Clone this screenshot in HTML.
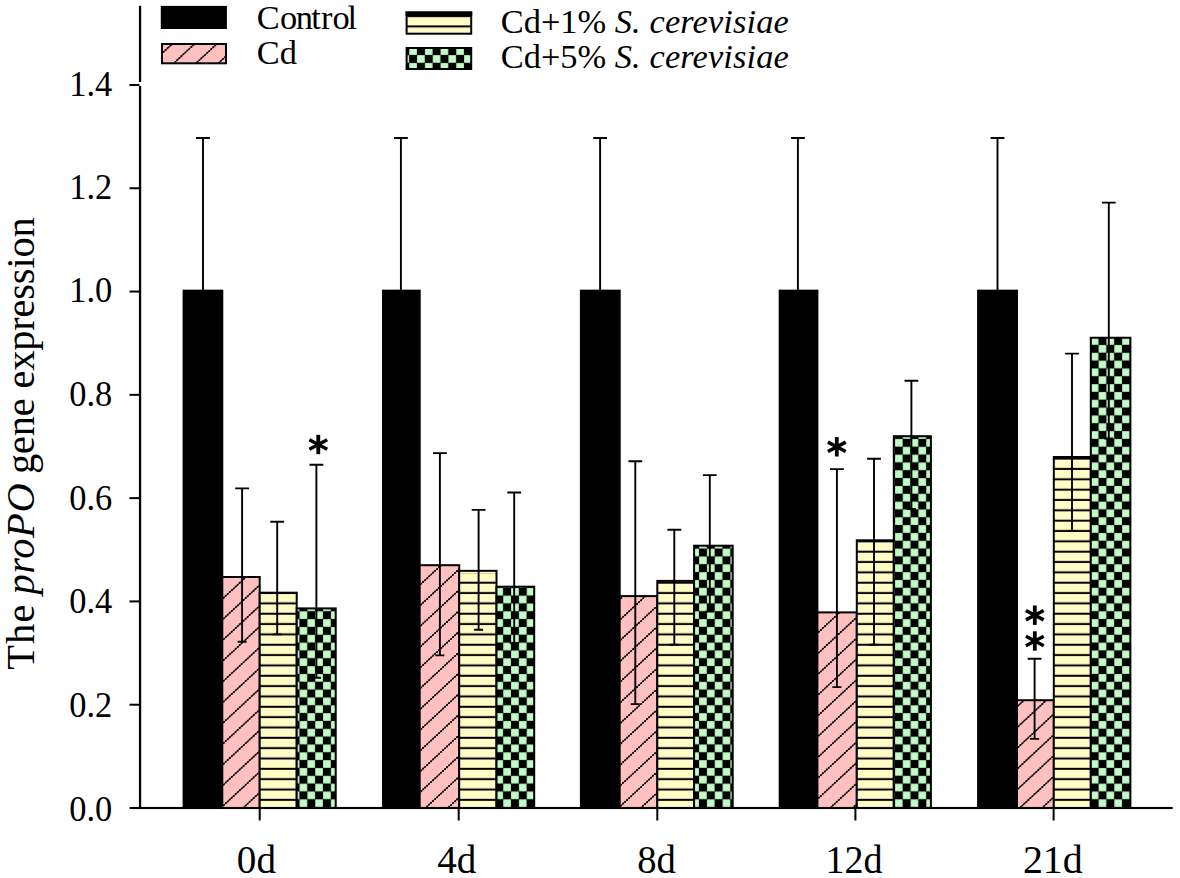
<!DOCTYPE html>
<html><head><meta charset="utf-8"><title>proPO gene expression</title>
<style>html,body{margin:0;padding:0;background:#fff}body{width:1180px;height:878px;overflow:hidden}svg{display:block}text{font-family:"Liberation Serif",serif;fill:#000}</style>
</head><body>
<svg width="1180" height="878" viewBox="0 0 1180 878">
<defs>
<pattern id="ps" patternUnits="userSpaceOnUse" x="0" y="0" width="40" height="10.340"><rect width="40" height="10.340" fill="#fffcc6"/><rect x="0" y="2.65" width="40" height="2.00" fill="#000"/></pattern>
<pattern id="psl" patternUnits="userSpaceOnUse" x="0" y="0" width="40" height="10.340"><rect width="40" height="10.340" fill="#fffcc6"/><rect x="0" y="4.75" width="40" height="2.00" fill="#000"/></pattern>
<pattern id="pc" patternUnits="userSpaceOnUse" width="15.668" height="15.668" patternTransform="translate(1.8,0.2)"><rect width="15.668" height="15.668" fill="#000"/><rect x="0.120" y="0.120" width="7.594" height="7.594" fill="#c2fdc6"/><rect x="7.954" y="7.954" width="7.594" height="7.594" fill="#c2fdc6"/></pattern>
</defs>
<rect width="1180" height="878" fill="#fff"/>
<g stroke="#000" stroke-width="2">
<rect x="183.60" y="290.65" width="38.70" height="517.35" fill="#000"/>
<rect x="222.30" y="577.00" width="37.40" height="231.00" fill="#ffc0c0"/>
<rect x="259.70" y="592.70" width="37.00" height="215.30" fill="url(#ps)"/>
<rect x="296.70" y="608.40" width="39.00" height="199.60" fill="url(#pc)"/>
<rect x="383.00" y="290.65" width="36.70" height="517.35" fill="#000"/>
<rect x="419.70" y="565.20" width="39.50" height="242.80" fill="#ffc0c0"/>
<rect x="459.20" y="570.85" width="37.30" height="237.15" fill="url(#ps)"/>
<rect x="496.50" y="586.70" width="37.70" height="221.30" fill="url(#pc)"/>
<rect x="580.90" y="290.65" width="38.80" height="517.35" fill="#000"/>
<rect x="619.70" y="596.10" width="37.60" height="211.90" fill="#ffc0c0"/>
<rect x="657.30" y="580.90" width="36.80" height="227.10" fill="url(#ps)"/>
<rect x="694.10" y="545.70" width="38.60" height="262.30" fill="url(#pc)"/>
<rect x="779.70" y="290.65" width="37.70" height="517.35" fill="#000"/>
<rect x="817.40" y="612.40" width="39.40" height="195.60" fill="#ffc0c0"/>
<rect x="856.80" y="540.30" width="37.00" height="267.70" fill="url(#ps)"/>
<rect x="893.80" y="436.20" width="37.10" height="371.80" fill="url(#pc)"/>
<rect x="978.10" y="290.65" width="38.90" height="517.35" fill="#000"/>
<rect x="1017.00" y="700.20" width="36.80" height="107.80" fill="#ffc0c0"/>
<rect x="1053.80" y="457.00" width="37.00" height="351.00" fill="url(#ps)"/>
<rect x="1090.80" y="337.75" width="39.60" height="470.25" fill="url(#pc)"/>
</g>
<clipPath id="cl0"><rect x="222.80" y="577.50" width="36.40" height="230.00"/></clipPath>
<g clip-path="url(#cl0)" stroke="#000" stroke-width="2.05" stroke-linecap="round" stroke-dasharray="0 2.72" fill="none">
<path d="M219.80,539.13 L262.20,499.70 M219.80,559.88 L262.20,520.45 M219.80,580.63 L262.20,541.20 M219.80,601.38 L262.20,561.95 M219.80,622.13 L262.20,582.70 M219.80,642.88 L262.20,603.45 M219.80,663.63 L262.20,624.20 M219.80,684.38 L262.20,644.95 M219.80,705.13 L262.20,665.70 M219.80,725.88 L262.20,686.45 M219.80,746.63 L262.20,707.20 M219.80,767.38 L262.20,727.95 M219.80,788.13 L262.20,748.70 M219.80,808.88 L262.20,769.45 M219.80,829.63 L262.20,790.20 M219.80,850.38 L262.20,810.95 M219.80,871.13 L262.20,831.70"/>
<path d="M219.80,539.13 L262.20,499.70 M219.80,559.88 L262.20,520.45 M219.80,580.63 L262.20,541.20 M219.80,601.38 L262.20,561.95 M219.80,622.13 L262.20,582.70 M219.80,642.88 L262.20,603.45 M219.80,663.63 L262.20,624.20 M219.80,684.38 L262.20,644.95 M219.80,705.13 L262.20,665.70 M219.80,725.88 L262.20,686.45 M219.80,746.63 L262.20,707.20 M219.80,767.38 L262.20,727.95 M219.80,788.13 L262.20,748.70 M219.80,808.88 L262.20,769.45 M219.80,829.63 L262.20,790.20 M219.80,850.38 L262.20,810.95 M219.80,871.13 L262.20,831.70" stroke-width="0.9" stroke-dasharray="none" stroke-linecap="butt"/>
</g>
<clipPath id="cl1"><rect x="420.20" y="565.70" width="38.50" height="241.80"/></clipPath>
<g clip-path="url(#cl1)" stroke="#000" stroke-width="2.05" stroke-linecap="round" stroke-dasharray="0 2.72" fill="none">
<path d="M417.20,545.93 L461.70,504.55 M417.20,566.68 L461.70,525.30 M417.20,587.43 L461.70,546.05 M417.20,608.18 L461.70,566.80 M417.20,628.93 L461.70,587.55 M417.20,649.68 L461.70,608.30 M417.20,670.43 L461.70,629.05 M417.20,691.18 L461.70,649.80 M417.20,711.93 L461.70,670.55 M417.20,732.68 L461.70,691.30 M417.20,753.43 L461.70,712.05 M417.20,774.18 L461.70,732.80 M417.20,794.93 L461.70,753.55 M417.20,815.68 L461.70,774.30 M417.20,836.43 L461.70,795.05 M417.20,857.18 L461.70,815.80 M417.20,877.93 L461.70,836.55"/>
<path d="M417.20,545.93 L461.70,504.55 M417.20,566.68 L461.70,525.30 M417.20,587.43 L461.70,546.05 M417.20,608.18 L461.70,566.80 M417.20,628.93 L461.70,587.55 M417.20,649.68 L461.70,608.30 M417.20,670.43 L461.70,629.05 M417.20,691.18 L461.70,649.80 M417.20,711.93 L461.70,670.55 M417.20,732.68 L461.70,691.30 M417.20,753.43 L461.70,712.05 M417.20,774.18 L461.70,732.80 M417.20,794.93 L461.70,753.55 M417.20,815.68 L461.70,774.30 M417.20,836.43 L461.70,795.05 M417.20,857.18 L461.70,815.80 M417.20,877.93 L461.70,836.55" stroke-width="0.9" stroke-dasharray="none" stroke-linecap="butt"/>
</g>
<clipPath id="cl2"><rect x="620.20" y="596.60" width="36.60" height="210.90"/></clipPath>
<g clip-path="url(#cl2)" stroke="#000" stroke-width="2.05" stroke-linecap="round" stroke-dasharray="0 2.72" fill="none">
<path d="M617.20,560.15 L659.80,520.53 M617.20,580.90 L659.80,541.28 M617.20,601.65 L659.80,562.03 M617.20,622.40 L659.80,582.78 M617.20,643.15 L659.80,603.53 M617.20,663.90 L659.80,624.28 M617.20,684.65 L659.80,645.03 M617.20,705.40 L659.80,665.78 M617.20,726.15 L659.80,686.53 M617.20,746.90 L659.80,707.28 M617.20,767.65 L659.80,728.03 M617.20,788.40 L659.80,748.78 M617.20,809.15 L659.80,769.53 M617.20,829.90 L659.80,790.28 M617.20,850.65 L659.80,811.03 M617.20,871.40 L659.80,831.78"/>
<path d="M617.20,560.15 L659.80,520.53 M617.20,580.90 L659.80,541.28 M617.20,601.65 L659.80,562.03 M617.20,622.40 L659.80,582.78 M617.20,643.15 L659.80,603.53 M617.20,663.90 L659.80,624.28 M617.20,684.65 L659.80,645.03 M617.20,705.40 L659.80,665.78 M617.20,726.15 L659.80,686.53 M617.20,746.90 L659.80,707.28 M617.20,767.65 L659.80,728.03 M617.20,788.40 L659.80,748.78 M617.20,809.15 L659.80,769.53 M617.20,829.90 L659.80,790.28 M617.20,850.65 L659.80,811.03 M617.20,871.40 L659.80,831.78" stroke-width="0.9" stroke-dasharray="none" stroke-linecap="butt"/>
</g>
<clipPath id="cl3"><rect x="817.90" y="612.90" width="38.40" height="194.60"/></clipPath>
<g clip-path="url(#cl3)" stroke="#000" stroke-width="2.05" stroke-linecap="round" stroke-dasharray="0 2.72" fill="none">
<path d="M814.90,593.98 L859.30,552.68 M814.90,614.73 L859.30,573.43 M814.90,635.48 L859.30,594.18 M814.90,656.23 L859.30,614.93 M814.90,676.98 L859.30,635.68 M814.90,697.73 L859.30,656.43 M814.90,718.48 L859.30,677.18 M814.90,739.23 L859.30,697.93 M814.90,759.98 L859.30,718.68 M814.90,780.73 L859.30,739.43 M814.90,801.48 L859.30,760.18 M814.90,822.23 L859.30,780.93 M814.90,842.98 L859.30,801.68 M814.90,863.73 L859.30,822.43 M814.90,884.48 L859.30,843.18"/>
<path d="M814.90,593.98 L859.30,552.68 M814.90,614.73 L859.30,573.43 M814.90,635.48 L859.30,594.18 M814.90,656.23 L859.30,614.93 M814.90,676.98 L859.30,635.68 M814.90,697.73 L859.30,656.43 M814.90,718.48 L859.30,677.18 M814.90,739.23 L859.30,697.93 M814.90,759.98 L859.30,718.68 M814.90,780.73 L859.30,739.43 M814.90,801.48 L859.30,760.18 M814.90,822.23 L859.30,780.93 M814.90,842.98 L859.30,801.68 M814.90,863.73 L859.30,822.43 M814.90,884.48 L859.30,843.18" stroke-width="0.9" stroke-dasharray="none" stroke-linecap="butt"/>
</g>
<clipPath id="cl4"><rect x="1017.50" y="700.70" width="35.80" height="106.80"/></clipPath>
<g clip-path="url(#cl4)" stroke="#000" stroke-width="2.05" stroke-linecap="round" stroke-dasharray="0 2.72" fill="none">
<path d="M1014.50,667.61 L1056.30,628.74 M1014.50,688.36 L1056.30,649.49 M1014.50,709.11 L1056.30,670.24 M1014.50,729.86 L1056.30,690.99 M1014.50,750.61 L1056.30,711.74 M1014.50,771.36 L1056.30,732.49 M1014.50,792.11 L1056.30,753.24 M1014.50,812.86 L1056.30,773.99 M1014.50,833.61 L1056.30,794.74 M1014.50,854.36 L1056.30,815.49 M1014.50,875.11 L1056.30,836.24"/>
<path d="M1014.50,667.61 L1056.30,628.74 M1014.50,688.36 L1056.30,649.49 M1014.50,709.11 L1056.30,670.24 M1014.50,729.86 L1056.30,690.99 M1014.50,750.61 L1056.30,711.74 M1014.50,771.36 L1056.30,732.49 M1014.50,792.11 L1056.30,753.24 M1014.50,812.86 L1056.30,773.99 M1014.50,833.61 L1056.30,794.74 M1014.50,854.36 L1056.30,815.49 M1014.50,875.11 L1056.30,836.24" stroke-width="0.9" stroke-dasharray="none" stroke-linecap="butt"/>
</g>
<rect x="460.20" y="571.9" width="35.30" height="1.6" fill="#fffcc6"/>
<g stroke="#000" stroke-width="1.9" fill="none">
<path d="M203.00,291.00 V138.00 M196.10,138.00 H209.90"/>
<path d="M242.10,488.40 V641.80 M235.20,488.40 H249.00 M237.60,641.80 H246.60"/>
<path d="M277.20,521.80 V634.40 M270.30,521.80 H284.10 M272.70,634.40 H281.70"/>
<path d="M316.40,464.80 V677.70 M309.50,464.80 H323.30 M311.90,677.70 H320.90"/>
<path d="M400.90,291.00 V138.00 M394.00,138.00 H407.80"/>
<path d="M439.90,453.10 V655.40 M433.00,453.10 H446.80 M435.40,655.40 H444.40"/>
<path d="M478.60,509.90 V629.70 M471.70,509.90 H485.50 M474.10,629.70 H483.10"/>
<path d="M514.20,492.50 V643.00 M507.30,492.50 H521.10 M509.70,643.00 H518.70"/>
<path d="M600.10,291.00 V138.00 M593.20,138.00 H607.00"/>
<path d="M635.30,461.20 V704.10 M628.40,461.20 H642.20 M630.80,704.10 H639.80"/>
<path d="M674.30,529.80 V644.70 M667.40,529.80 H681.20 M669.80,644.70 H678.80"/>
<path d="M709.80,475.10 V611.60 M702.90,475.10 H716.70 M705.30,611.60 H714.30"/>
<path d="M797.90,291.00 V138.00 M791.00,138.00 H804.80"/>
<path d="M836.90,469.10 V687.10 M830.00,469.10 H843.80 M832.40,687.10 H841.40"/>
<path d="M874.00,458.80 V644.70 M867.10,458.80 H880.90 M869.50,644.70 H878.50"/>
<path d="M911.40,380.80 V509.00 M904.50,380.80 H918.30 M906.90,509.00 H915.90"/>
<path d="M997.50,291.00 V138.00 M990.60,138.00 H1004.40"/>
<path d="M1034.60,658.70 V738.90 M1027.70,658.70 H1041.50 M1030.10,738.90 H1039.10"/>
<path d="M1072.00,353.60 V531.00 M1065.10,353.60 H1078.90 M1067.50,531.00 H1076.50"/>
<path d="M1108.80,202.60 V438.50 M1101.90,202.60 H1115.70 M1104.30,438.50 H1113.30"/>
</g>
<g fill="#000">
<rect x="138.9" y="5.8" width="2.3" height="76.2"/>
<rect x="138.9" y="86" width="2.3" height="723"/>
<rect x="129.5" y="806.95" width="1043.2" height="2.1"/>
<rect x="129.5" y="703.71" width="10" height="2"/>
<rect x="129.5" y="600.42" width="10" height="2"/>
<rect x="129.5" y="497.13" width="10" height="2"/>
<rect x="129.5" y="393.84" width="10" height="2"/>
<rect x="129.5" y="290.55" width="10" height="2"/>
<rect x="129.5" y="187.26" width="10" height="2"/>
<rect x="129.5" y="83.97" width="10" height="2"/>
<rect x="258.70" y="808" width="2" height="12.5"/>
<rect x="457.70" y="808" width="2" height="12.5"/>
<rect x="656.30" y="808" width="2" height="12.5"/>
<rect x="854.40" y="808" width="2" height="12.5"/>
<rect x="1052.60" y="808" width="2" height="12.5"/>
</g>
<g font-size="34.4" text-anchor="end">
<text transform="translate(112.2,820.70) scale(1,1.06)">0.0</text>
<text transform="translate(112.2,717.00) scale(1,1.06)">0.2</text>
<text transform="translate(112.2,613.40) scale(1,1.06)">0.4</text>
<text transform="translate(112.2,509.60) scale(1,1.06)">0.6</text>
<text transform="translate(112.2,405.70) scale(1,1.06)">0.8</text>
<text transform="translate(112.2,301.80) scale(1,1.06)">1.0</text>
<text transform="translate(112.2,199.40) scale(1,1.06)">1.2</text>
<text transform="translate(112.2,95.80) scale(1,1.06)">1.4</text>
</g>
<g font-size="40.5" text-anchor="middle">
<text transform="translate(256.40,872.5) scale(0.965,1)">0d</text>
<text transform="translate(456.70,872.5) scale(0.965,1)">4d</text>
<text transform="translate(656.45,872.5) scale(0.955,1)">8d</text>
<text transform="translate(854.00,872.5) scale(0.940,1)">12d</text>
<text transform="translate(1052.80,872.5) scale(0.985,1)">21d</text>
</g>
<g font-size="40.4">
<text transform="translate(34,669.8) rotate(-90)" textLength="65.2" lengthAdjust="spacing">The</text>
<text transform="translate(34,594.6) rotate(-90)" font-style="italic" letter-spacing="0.7">proPO</text>
<text transform="translate(34,474.1) rotate(-90)" textLength="256.8" lengthAdjust="spacing">gene expression</text>
</g>
<g transform="translate(318.30,444.50)" stroke="#000" fill="#000"><path d="M0,-9.7 V9.7" stroke-width="3.8" fill="none"/><path d="M-8.9,-4.7 L8.9,4.7 M-8.9,4.7 L8.9,-4.7" stroke-width="3.5" fill="none"/><rect x="-2.8" y="-2.6" width="5.6" height="5.2" stroke="none"/></g>
<g transform="translate(836.80,446.80)" stroke="#000" fill="#000"><path d="M0,-9.7 V9.7" stroke-width="3.8" fill="none"/><path d="M-8.9,-4.7 L8.9,4.7 M-8.9,4.7 L8.9,-4.7" stroke-width="3.5" fill="none"/><rect x="-2.8" y="-2.6" width="5.6" height="5.2" stroke="none"/></g>
<g transform="translate(1034.80,615.20)" stroke="#000" fill="#000"><path d="M0,-9.7 V9.7" stroke-width="3.8" fill="none"/><path d="M-8.9,-4.7 L8.9,4.7 M-8.9,4.7 L8.9,-4.7" stroke-width="3.5" fill="none"/><rect x="-2.8" y="-2.6" width="5.6" height="5.2" stroke="none"/></g>
<g transform="translate(1034.80,641.00)" stroke="#000" fill="#000"><path d="M0,-9.7 V9.7" stroke-width="3.8" fill="none"/><path d="M-8.9,-4.7 L8.9,4.7 M-8.9,4.7 L8.9,-4.7" stroke-width="3.5" fill="none"/><rect x="-2.8" y="-2.6" width="5.6" height="5.2" stroke="none"/></g>
<rect x="160.8" y="5.9" width="66.1" height="23.1" fill="#000"/>
<rect x="162" y="44" width="64" height="19.3" fill="#ffc0c0" stroke="#000" stroke-width="2"/>
<clipPath id="cl5"><rect x="162.50" y="44.50" width="63.00" height="18.30"/></clipPath>
<g clip-path="url(#cl5)" stroke="#000" stroke-width="2.05" stroke-linecap="round" stroke-dasharray="0 2.72" fill="none">
<path d="M159.50,14.27 L228.50,-49.91 M159.50,35.02 L228.50,-29.16 M159.50,55.77 L228.50,-8.41 M159.50,76.52 L228.50,12.34 M159.50,97.27 L228.50,33.09 M159.50,118.02 L228.50,53.84 M159.50,138.76 L228.50,74.59 M159.50,159.51 L228.50,95.34"/>
<path d="M159.50,14.27 L228.50,-49.91 M159.50,35.02 L228.50,-29.16 M159.50,55.77 L228.50,-8.41 M159.50,76.52 L228.50,12.34 M159.50,97.27 L228.50,33.09 M159.50,118.02 L228.50,53.84 M159.50,138.76 L228.50,74.59 M159.50,159.51 L228.50,95.34" stroke-width="0.9" stroke-dasharray="none" stroke-linecap="butt"/>
</g>
<rect x="406.6" y="12.5" width="64.6" height="21.2" fill="url(#psl)" stroke="#000" stroke-width="2"/>
<rect x="405.6" y="11.5" width="66.6" height="4.7" fill="#000"/>
<rect x="406.6" y="48" width="64.6" height="21" fill="url(#pc)" stroke="#000" stroke-width="2"/>
<g font-size="34.4">
<text y="28.8" x="256.8 279.9 295.8 311.2 320.9 332.5 347.6">Control</text>
<text x="256.8" y="63.5">Cd</text>
<text x="500.8" y="32.9">Cd+1% <tspan font-style="italic" letter-spacing="0.12">S. cerevisiae</tspan></text>
<text x="500.8" y="67.7">Cd+5% <tspan font-style="italic" letter-spacing="0.12">S. cerevisiae</tspan></text>
</g>
</svg>
</body></html>
